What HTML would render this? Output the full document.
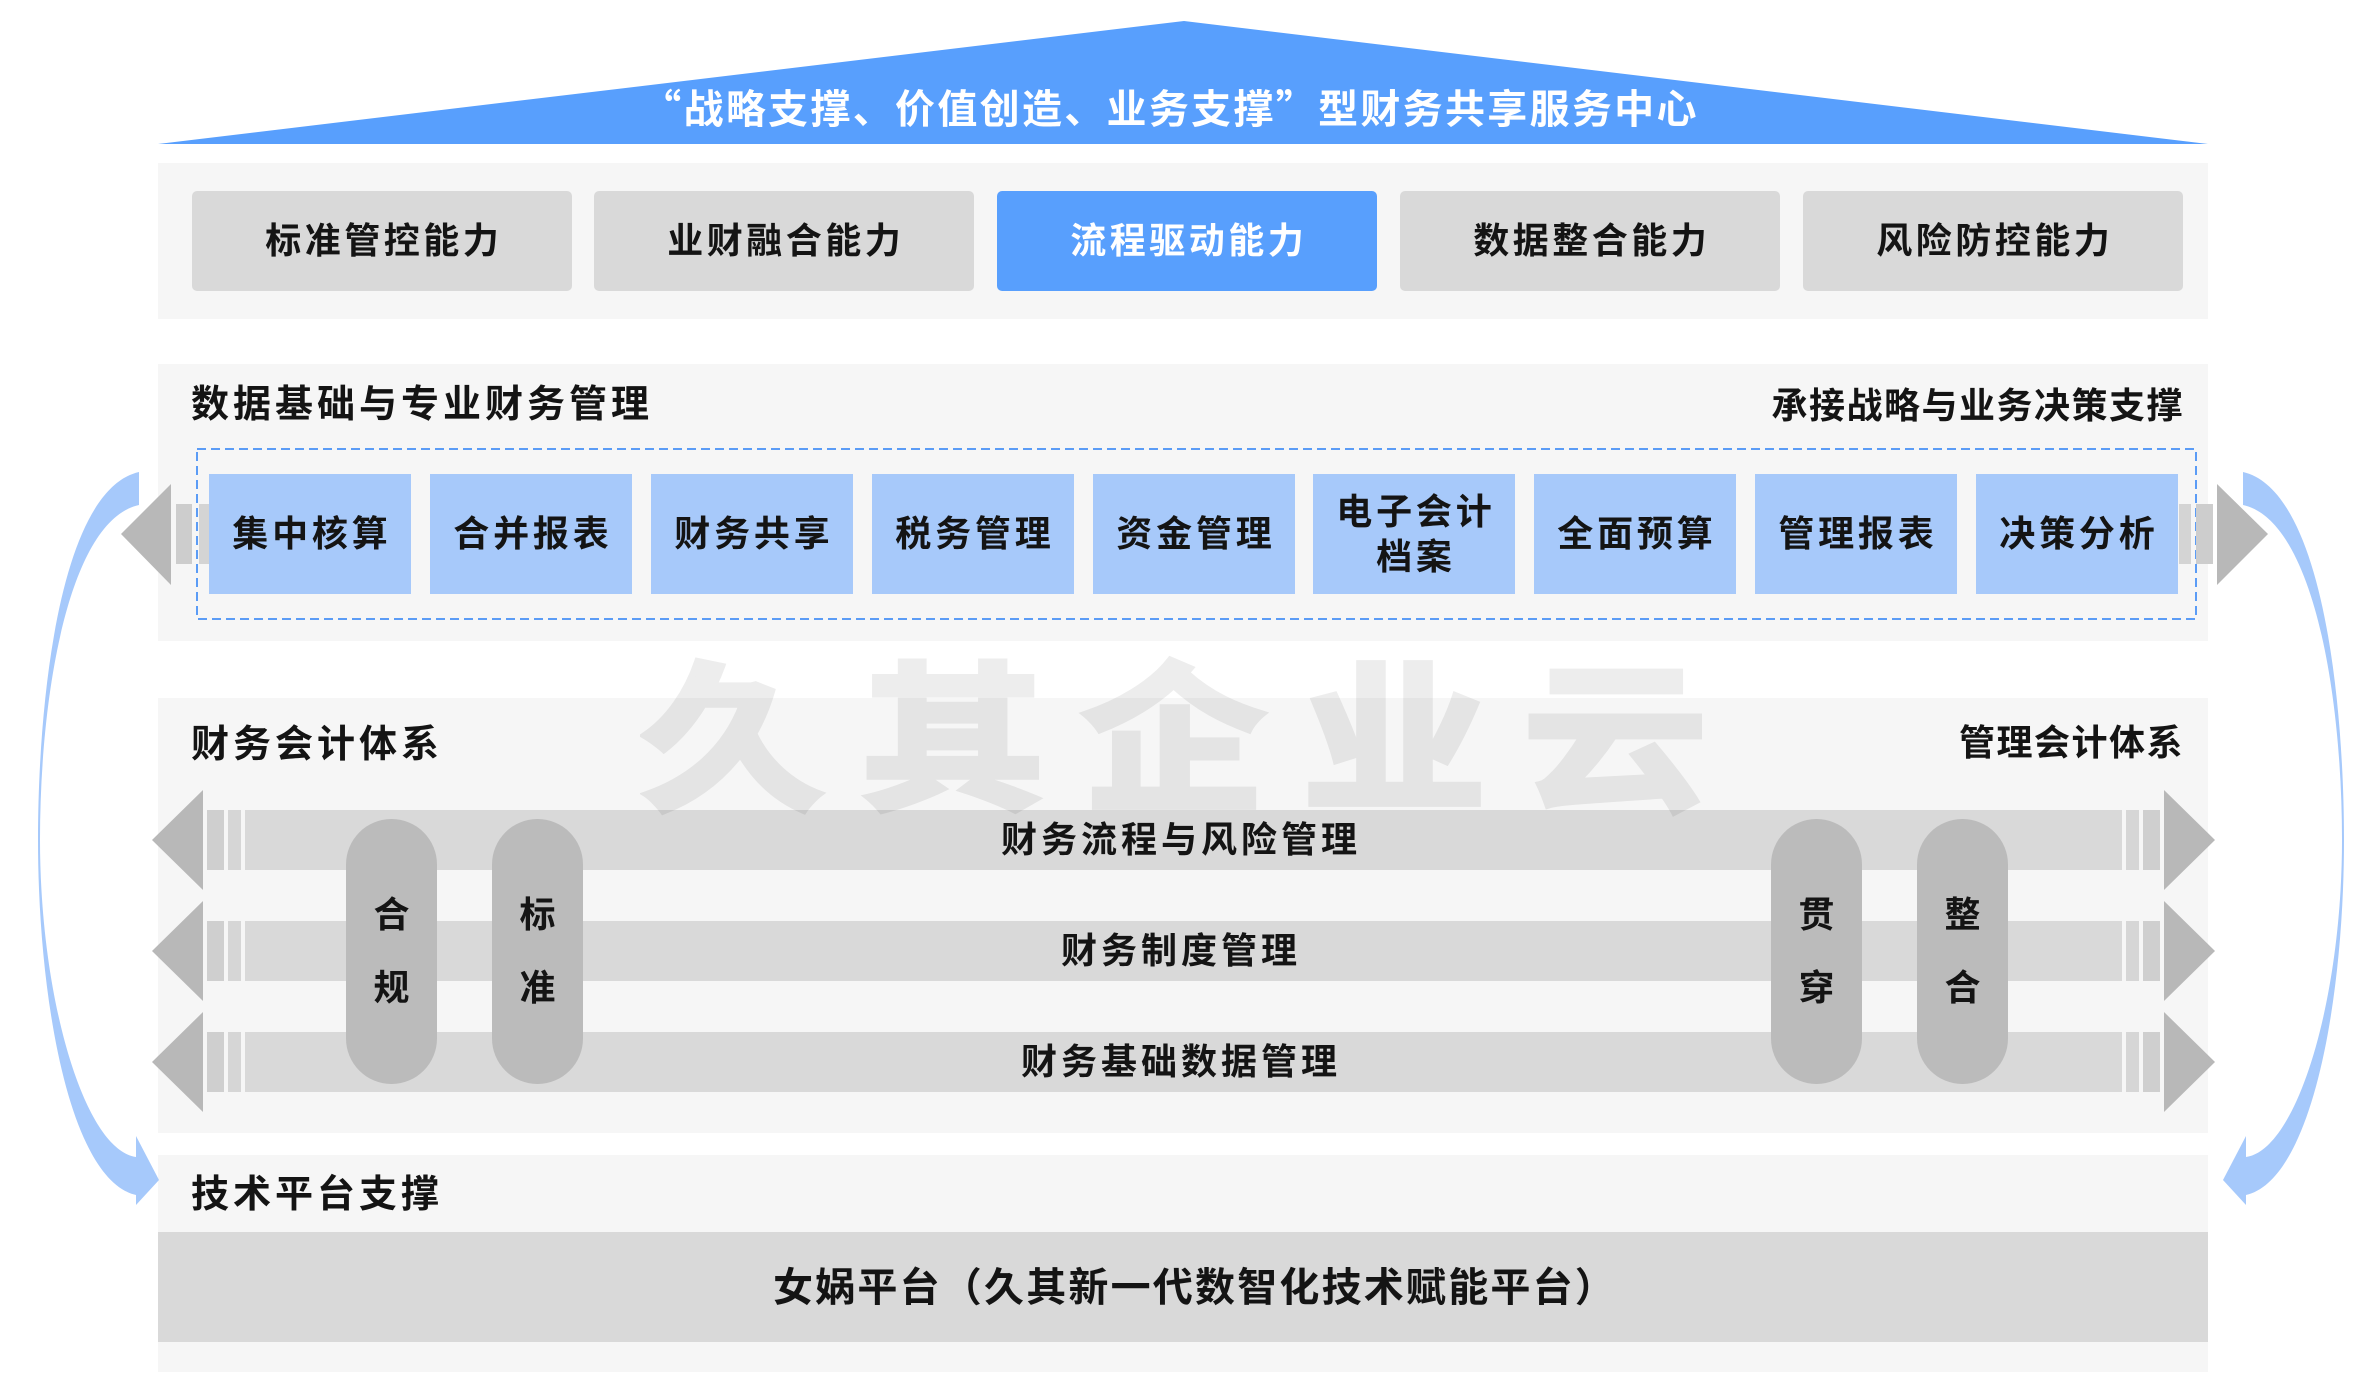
<!DOCTYPE html>
<html>
<head>
<meta charset="utf-8">
<style>
html,body{margin:0;padding:0;background:#ffffff;}
body{width:2369px;height:1394px;position:relative;overflow:hidden;font-family:"Liberation Sans","Noto Sans CJK SC",sans-serif;font-weight:700;color:#141414;}
.abs{position:absolute;}
.panel{position:absolute;left:158px;width:2050px;background:#f6f6f6;}
.box{position:absolute;display:flex;align-items:center;justify-content:center;text-align:center;line-height:1;}
.tb{top:191px;height:100px;width:380px;border-radius:5px;background:#d9d9d9;font-size:36px;letter-spacing:3.5px;padding-left:3.5px;box-sizing:border-box;}
.bb{top:474px;height:120px;width:202px;background:#a7c9fa;font-size:36px;letter-spacing:3.8px;padding-left:3.8px;box-sizing:border-box;}
.title{position:absolute;font-size:38px;letter-spacing:4px;line-height:50px;height:50px;white-space:nowrap;}
.sub{position:absolute;font-size:36px;letter-spacing:1.5px;line-height:50px;height:50px;white-space:nowrap;text-align:right;}
.bandtxt{position:absolute;left:154px;width:2050px;height:50px;line-height:50px;text-align:center;font-size:36px;letter-spacing:4px;padding-left:4px;box-sizing:border-box;white-space:nowrap;}
.pch{position:absolute;width:91px;height:44px;line-height:44px;text-align:center;font-size:36px;}
.q{font-family:"Noto Sans CJK SC",sans-serif;}
</style>
</head>
<body>

<!-- panels -->
<div class="panel" style="top:163px;height:156px;"></div>
<div class="panel" style="top:364px;height:277px;"></div>
<div class="panel" style="top:698px;height:435px;"></div>
<div class="panel" style="top:1155px;height:217px;"></div>

<svg class="abs" style="left:0;top:0;" width="2369" height="1394" viewBox="0 0 2369 1394">
  <!-- banner triangle -->
  <polygon points="158,144 1184,21 2208,144" fill="#589ffd"/>

  <!-- dashed rect -->
  <rect x="197" y="449" width="1999" height="170" fill="none" stroke="#5b9cf6" stroke-width="2" stroke-dasharray="9 5"/>

  <!-- panel 2 arrows -->
  <polygon points="121,534 171,484 171,585" fill="#b8b8b8"/>
  <rect x="176" y="504" width="16" height="60" fill="#cdcdcd"/>
  <rect x="199" y="504" width="10" height="60" fill="#d4d4d4"/>
  <rect x="2179" y="504" width="12" height="60" fill="#d4d4d4"/>
  <rect x="2196" y="504" width="17" height="60" fill="#cdcdcd"/>
  <polygon points="2217,484 2268,534 2217,585" fill="#b8b8b8"/>

  <!-- bands -->
  <g id="bands">
    <rect x="245" y="810" width="1877" height="60" fill="#d9d9d9"/>
    <rect x="207" y="810" width="17" height="60" fill="#cfcfcf"/>
    <rect x="228" y="810" width="13" height="60" fill="#d6d6d6"/>
    <rect x="2126" y="810" width="13" height="60" fill="#d6d6d6"/>
    <rect x="2143" y="810" width="17" height="60" fill="#cfcfcf"/>
    <polygon points="152,840 203,790 203,890" fill="#b8b8b8"/>
    <polygon points="2164,790 2215,840 2164,890" fill="#b8b8b8"/>

    <rect x="245" y="921" width="1877" height="60" fill="#d9d9d9"/>
    <rect x="207" y="921" width="17" height="60" fill="#cfcfcf"/>
    <rect x="228" y="921" width="13" height="60" fill="#d6d6d6"/>
    <rect x="2126" y="921" width="13" height="60" fill="#d6d6d6"/>
    <rect x="2143" y="921" width="17" height="60" fill="#cfcfcf"/>
    <polygon points="152,951 203,901 203,1001" fill="#b8b8b8"/>
    <polygon points="2164,901 2215,951 2164,1001" fill="#b8b8b8"/>

    <rect x="245" y="1032" width="1877" height="60" fill="#d9d9d9"/>
    <rect x="207" y="1032" width="17" height="60" fill="#cfcfcf"/>
    <rect x="228" y="1032" width="13" height="60" fill="#d6d6d6"/>
    <rect x="2126" y="1032" width="13" height="60" fill="#d6d6d6"/>
    <rect x="2143" y="1032" width="17" height="60" fill="#cfcfcf"/>
    <polygon points="152,1062 203,1012 203,1112" fill="#b8b8b8"/>
    <polygon points="2164,1012 2215,1062 2164,1112" fill="#b8b8b8"/>
  </g>

  <!-- pills -->
  <rect x="346" y="819" width="91" height="265" rx="45.5" ry="45.5" fill="#bbbbbb"/>
  <rect x="492" y="819" width="91" height="265" rx="45.5" ry="45.5" fill="#bbbbbb"/>
  <rect x="1771" y="819" width="91" height="265" rx="45.5" ry="45.5" fill="#bbbbbb"/>
  <rect x="1917" y="819" width="91" height="265" rx="45.5" ry="45.5" fill="#bbbbbb"/>

  <!-- bottom band -->
  <rect x="158" y="1232" width="2050" height="110" fill="#d9d9d9"/>

  <!-- blue curved arrows -->
  <g id="lcurve" fill="#a6c9fb">
    <path d="M139,472 L139,505 C70,520 40,690 40,840 C40,1000 85,1150 136,1157 L136,1195 C70,1180 38,1000 38,840 C38,700 60,490 139,472 Z"/>
    <polygon points="136,1136 159,1180 136,1205"/>
  </g>
  <g transform="translate(2382,0) scale(-1,1)" fill="#a6c9fb">
    <path d="M139,472 L139,505 C70,520 40,690 40,840 C40,1000 85,1150 136,1157 L136,1195 C70,1180 38,1000 38,840 C38,700 60,490 139,472 Z"/>
    <polygon points="136,1136 159,1180 136,1205"/>
  </g>
</svg>

<!-- watermark -->
<div class="abs" style="left:640px;top:648px;font-size:160px;line-height:160px;height:160px;color:#ededed;-webkit-text-stroke:6px #ededed;mix-blend-mode:multiply;letter-spacing:32px;white-space:nowrap;transform:scaleX(1.15);transform-origin:0 0;font-family:'Noto Sans CJK SC',sans-serif;">久其企业云</div>

<!-- banner text -->
<div class="abs" style="left:145px;width:2050px;top:81px;height:50px;line-height:50px;text-align:center;font-size:40px;letter-spacing:2.3px;color:#ffffff;white-space:nowrap;"><span class="q">“</span>战略支撑、价值创造、业务支撑<span class="q">”</span>型财务共享服务中心</div>

<!-- top capability boxes -->
<div class="box tb" style="left:192px;">标准管控能力</div>
<div class="box tb" style="left:594px;">业财融合能力</div>
<div class="box tb" style="left:997px;background:#589ffd;color:#ffffff;">流程驱动能力</div>
<div class="box tb" style="left:1400px;">数据整合能力</div>
<div class="box tb" style="left:1803px;">风险防控能力</div>

<!-- panel 2 -->
<div class="title" style="left:191px;top:380px;">数据基础与专业财务管理</div>
<div class="sub" style="left:1582px;width:602px;top:381px;">承接战略与业务决策支撑</div>

<div class="box bb" style="left:209px;">集中核算</div>
<div class="box bb" style="left:430px;">合并报表</div>
<div class="box bb" style="left:651px;">财务共享</div>
<div class="box bb" style="left:872px;">税务管理</div>
<div class="box bb" style="left:1093px;">资金管理</div>
<div class="box bb" style="left:1313px;line-height:45px;">电子会计<br>档案</div>
<div class="box bb" style="left:1534px;">全面预算</div>
<div class="box bb" style="left:1755px;">管理报表</div>
<div class="box bb" style="left:1976px;">决策分析</div>

<!-- panel 3 -->
<div class="title" style="left:191px;top:720px;">财务会计体系</div>
<div class="sub" style="left:1582px;width:602px;top:718px;">管理会计体系</div>

<div class="bandtxt" style="top:815px;">财务流程与风险管理</div>
<div class="bandtxt" style="top:926px;">财务制度管理</div>
<div class="bandtxt" style="top:1037px;">财务基础数据管理</div>

<div class="pch" style="left:346px;top:893px;">合</div>
<div class="pch" style="left:346px;top:966px;">规</div>
<div class="pch" style="left:492px;top:893px;">标</div>
<div class="pch" style="left:492px;top:966px;">准</div>
<div class="pch" style="left:1771px;top:893px;">贯</div>
<div class="pch" style="left:1771px;top:966px;">穿</div>
<div class="pch" style="left:1917px;top:893px;">整</div>
<div class="pch" style="left:1917px;top:966px;">合</div>

<!-- panel 4 -->
<div class="title" style="left:191px;top:1170px;">技术平台支撑</div>
<div class="abs" style="left:170px;width:2050px;top:1263px;height:50px;line-height:50px;text-align:center;font-size:40px;letter-spacing:2.2px;white-space:nowrap;">女娲平台（久其新一代数智化技术赋能平台）</div>

</body>
</html>
